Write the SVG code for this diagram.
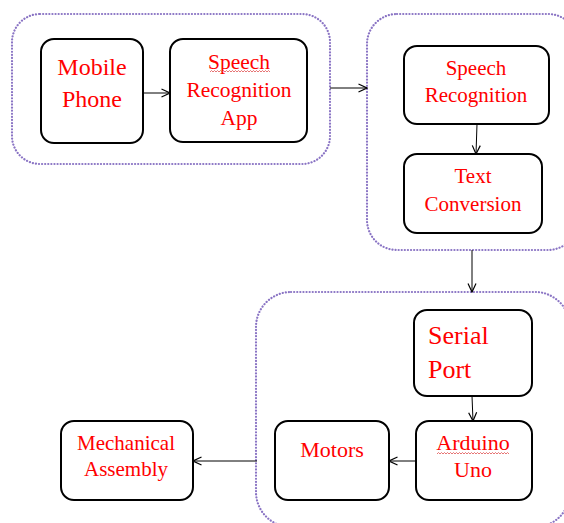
<svg xmlns="http://www.w3.org/2000/svg" width="564" height="523" viewBox="0 0 564 523">
  <style>
    .group { fill: none; stroke: #8A74C4; stroke-width: 2.2; stroke-dasharray: 0.1 3; stroke-linecap: round; }
    .box { fill: #ffffff; stroke: #000000; stroke-width: 2; }
    .lbl { fill: #ff0000; text-anchor: middle; }
    .left { text-anchor: start; }
    .edge { fill: none; stroke: #000000; stroke-width: 1; marker-end: url(#arrow); }
    .squiggle { fill: none; stroke: #e05050; stroke-width: 0.8; }
  </style>
  <defs>
    <marker id="arrow" viewBox="0 0 10 10" refX="9.5" refY="5" markerWidth="10" markerHeight="10" markerUnits="userSpaceOnUse" orient="auto">
      <path d="M1,1 L9.5,5 L1,9" fill="none" stroke="#000000" stroke-width="1.2"/>
    </marker>
  </defs>
  <rect width="564" height="523" fill="#ffffff"/>

  <!-- dotted stage outlines -->
  <g id="stages">
    <rect class="group" x="12" y="14" width="318" height="150" rx="28"/>
    <rect class="group" x="367" y="14" width="211" height="236" rx="30"/>
    <rect class="group" x="256" y="292" width="314" height="235" rx="35"/>
  </g>

  <!-- connectors -->
  <g id="connectors">
    <line class="edge" x1="143" y1="93" x2="170" y2="93"/>
    <line class="edge" x1="330" y1="88" x2="367" y2="88"/>
    <line class="edge" x1="477" y1="124" x2="476" y2="154"/>
    <line class="edge" x1="472" y1="250" x2="472" y2="292"/>
    <line class="edge" x1="472" y1="396" x2="473" y2="421"/>
    <line class="edge" x1="416" y1="461" x2="389" y2="461"/>
    <line class="edge" x1="257" y1="461" x2="193" y2="461"/>
  </g>

  <g font-family="Liberation Serif, DejaVu Serif, serif">
    <g id="mobile-phone">
      <rect class="box" x="41" y="39" width="102" height="104" rx="13"/>
      <text class="lbl" x="92" y="75" font-size="24">Mobile</text>
      <text class="lbl" x="92" y="107" font-size="24">Phone</text>
    </g>

    <g id="speech-app">
      <rect class="box" x="170" y="39" width="137" height="103" rx="13"/>
      <text class="lbl" x="239" y="69" font-size="21.5">Speech</text>
      <path class="squiggle" d="M210,72 l1.5,-1.5 l1.5,1.5 l1.5,-1.5 l1.5,1.5 l1.5,-1.5 l1.5,1.5 l1.5,-1.5 l1.5,1.5 l1.5,-1.5 l1.5,1.5 l1.5,-1.5 l1.5,1.5 l1.5,-1.5 l1.5,1.5 l1.5,-1.5 l1.5,1.5 l1.5,-1.5 l1.5,1.5 l1.5,-1.5 l1.5,1.5 l1.5,-1.5 l1.5,1.5 l1.5,-1.5 l1.5,1.5 l1.5,-1.5 l1.5,1.5 l1.5,-1.5 l1.5,1.5 l1.5,-1.5 l1.5,1.5 l1.5,-1.5 l1.5,1.5 l1.5,-1.5 l1.5,1.5 l1.5,-1.5 l1.5,1.5 l1.5,-1.5 l1.5,1.5 l1.5,-1.5 l1.5,1.5"/>
      <text class="lbl" x="239" y="97" font-size="21.5">Recognition</text>
      <text class="lbl" x="239" y="125" font-size="21.5">App</text>
    </g>

    <g id="speech-recognition">
      <rect class="box" x="404" y="46" width="145" height="78" rx="13"/>
      <text class="lbl" x="476" y="75" font-size="21">Speech</text>
      <text class="lbl" x="476" y="102" font-size="21">Recognition</text>
    </g>

    <g id="text-conversion">
      <rect class="box" x="404" y="154" width="138" height="79" rx="13"/>
      <text class="lbl" x="473" y="183" font-size="21">Text</text>
      <text class="lbl" x="473" y="211" font-size="21">Conversion</text>
    </g>

    <g id="serial-port">
      <rect class="box" x="414" y="310" width="118" height="86" rx="13"/>
      <text class="lbl left" x="428" y="344" font-size="26">Serial</text>
      <text class="lbl left" x="428" y="378" font-size="26">Port</text>
    </g>

    <g id="arduino-uno">
      <rect class="box" x="416" y="421" width="116" height="79" rx="13"/>
      <text class="lbl" x="473" y="450" font-size="22">Arduino</text>
      <path class="squiggle" d="M437,454 l1.5,-1.5 l1.5,1.5 l1.5,-1.5 l1.5,1.5 l1.5,-1.5 l1.5,1.5 l1.5,-1.5 l1.5,1.5 l1.5,-1.5 l1.5,1.5 l1.5,-1.5 l1.5,1.5 l1.5,-1.5 l1.5,1.5 l1.5,-1.5 l1.5,1.5 l1.5,-1.5 l1.5,1.5 l1.5,-1.5 l1.5,1.5 l1.5,-1.5 l1.5,1.5 l1.5,-1.5 l1.5,1.5 l1.5,-1.5 l1.5,1.5 l1.5,-1.5 l1.5,1.5 l1.5,-1.5 l1.5,1.5 l1.5,-1.5 l1.5,1.5 l1.5,-1.5 l1.5,1.5 l1.5,-1.5 l1.5,1.5 l1.5,-1.5 l1.5,1.5 l1.5,-1.5 l1.5,1.5 l1.5,-1.5 l1.5,1.5 l1.5,-1.5 l1.5,1.5 l1.5,-1.5 l1.5,1.5 l1.5,-1.5 l1.5,1.5"/>
      <text class="lbl" x="473" y="477" font-size="22">Uno</text>
    </g>

    <g id="motors">
      <rect class="box" x="275" y="421" width="114" height="79" rx="13"/>
      <text class="lbl" x="332" y="457" font-size="22">Motors</text>
    </g>

    <g id="mechanical-assembly">
      <rect class="box" x="61" y="421" width="132" height="79" rx="13"/>
      <text class="lbl" x="126" y="450" font-size="21">Mechanical</text>
      <text class="lbl" x="126" y="476" font-size="21">Assembly</text>
    </g>
  </g>
</svg>
